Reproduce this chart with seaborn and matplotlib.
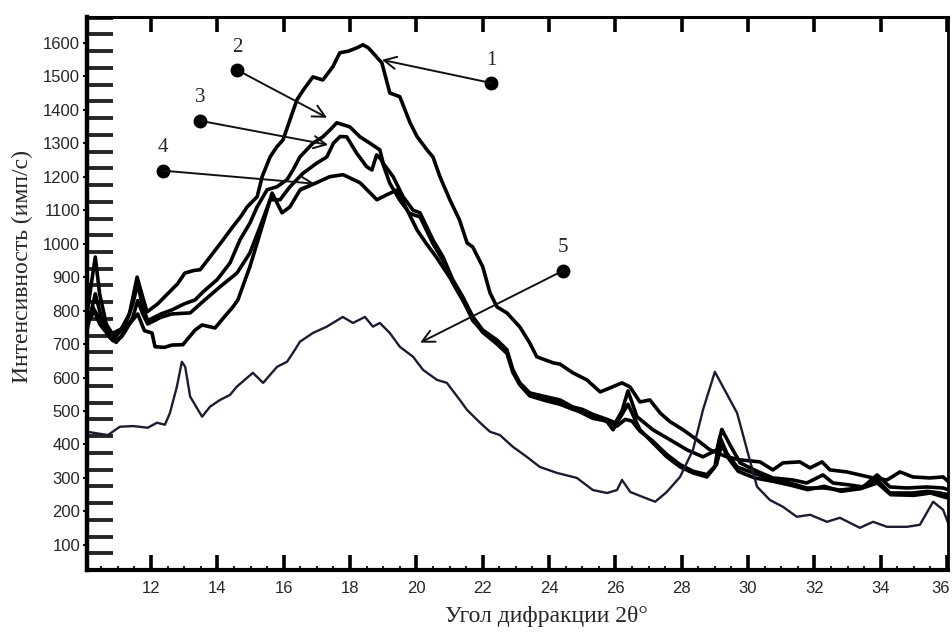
import numpy as np
import pandas as pd
import matplotlib
matplotlib.use("Agg")
import matplotlib.pyplot as plt
import matplotlib.transforms as mtransforms
import seaborn as sns
from matplotlib.ticker import MultipleLocator, FixedLocator

# ---- data (2theta, intensity) ----
x1 = [10.07, 10.3, 10.55, 10.8, 11.1, 11.35, 11.58, 11.75, 11.88, 12.2, 12.5, 12.8, 13.02, 13.3, 13.48,
      13.7, 13.87, 14.17, 14.47, 14.7, 14.9, 15.2, 15.35, 15.59, 15.8, 15.98, 16.19, 16.4, 16.6, 16.88,
      17.18, 17.48, 17.69, 17.95, 18.21, 18.39, 18.55, 18.69, 18.96, 19.2, 19.5, 19.81, 20.02, 20.32,
      20.5, 20.71, 21.01, 21.3, 21.53, 21.7, 22.0, 22.22, 22.43, 22.73, 23.12, 23.42, 23.63, 24.12,
      24.33, 24.72, 25.14, 25.54, 25.84, 26.2, 26.44, 26.74, 27.04, 27.35, 27.65, 28.04, 28.46, 28.85,
      29.36, 29.76, 30.36, 30.75, 31.05, 31.56, 31.87, 32.23, 32.47, 32.98, 33.37, 33.77, 34.19, 34.58,
      34.97, 35.48, 35.88, 36.03]
y1 = [760, 800, 760, 730, 745, 790, 900, 840, 796, 820, 850, 880, 912, 920, 922,
      950, 972, 1011, 1051, 1080, 1110, 1140, 1200, 1259, 1290, 1310, 1370, 1430, 1460, 1498,
      1489, 1528, 1570, 1575, 1585, 1594, 1585, 1570, 1540, 1450, 1439, 1361, 1320, 1280,
      1259, 1200, 1131, 1071, 1002, 990, 931, 853, 811, 793, 751, 703, 662, 644,
      640, 614, 593, 557, 569, 584, 572, 527, 533, 494, 468, 444, 414, 384,
      363, 354, 348, 324, 345, 348, 330, 348, 324, 318, 309, 300, 294, 318,
      303, 300, 303, 290]

x2 = [10.07, 10.2, 10.32, 10.45, 10.65, 10.9, 11.2, 11.45, 11.6, 11.75, 11.9, 12.3, 12.63, 13.0, 13.33,
      13.57, 13.99, 14.38, 14.68, 14.98, 15.2, 15.5, 15.8, 16.1, 16.28, 16.49, 16.88, 17.18, 17.4, 17.6,
      17.99, 18.3, 18.6, 18.9, 19.0, 19.3, 19.6, 19.9, 20.11, 20.5, 20.8, 21.1, 21.4, 21.7, 22.0,
      22.43, 22.73, 22.91, 23.12, 23.42, 23.93, 24.33, 24.72, 25.0, 25.32, 25.75, 26.0, 26.2, 26.38,
      26.65, 27.13, 27.65, 28.16, 28.64, 29.06, 29.21, 29.45, 29.76, 30.27, 30.75, 31.35, 31.77, 32.26,
      32.56, 33.07, 33.47, 33.89, 34.28, 34.79, 35.39, 35.88, 36.03]
y2 = [790, 880, 960, 850, 760, 720, 750, 820, 880, 810, 770, 790, 802, 820, 832,
      856, 892, 942, 1011, 1061, 1110, 1161, 1170, 1191, 1220, 1259, 1300, 1319, 1340, 1361,
      1349, 1319, 1300, 1280, 1240, 1200, 1140, 1100, 1092, 1011, 961, 892, 841, 782, 742,
      712, 683, 623, 584, 554, 542, 533, 512, 505, 490, 475, 465, 500, 560,
      483, 444, 414, 384, 363, 384, 445, 400, 345, 320, 300, 294, 285, 309,
      285, 279, 273, 309, 273, 270, 273, 270, 265]

x3 = [10.07, 10.2, 10.32, 10.5, 10.75, 10.95, 11.2, 11.45, 11.6, 11.75, 11.9, 12.3, 12.63, 13.18, 13.6,
      14.08, 14.59, 14.98, 15.29, 15.59, 15.89, 16.19, 16.58, 16.99, 17.3, 17.5, 17.7, 17.9, 18.2, 18.5,
      18.66, 18.8, 18.95, 19.2, 19.5, 19.8, 20.11, 20.5, 20.8, 21.1, 21.4, 21.7, 22.0, 22.43, 22.73,
      22.91, 23.12, 23.42, 23.93, 24.33, 24.72, 25.32, 25.75, 25.93, 26.2, 26.38, 26.74, 27.13, 27.55,
      27.95, 28.34, 28.76, 29.0, 29.15, 29.36, 29.67, 30.15, 30.75, 31.26, 31.77, 32.3, 32.77, 33.37,
      33.89, 34.28, 34.97, 35.4, 35.79, 36.03]
y3 = [740, 800, 850, 780, 720, 705, 735, 780, 830, 790, 760, 780, 790, 793, 830,
      871, 912, 972, 1051, 1131, 1131, 1170, 1210, 1240, 1259, 1300, 1320, 1319, 1270, 1230,
      1220, 1265, 1250, 1180, 1130, 1090, 1080, 1000, 950, 882, 830, 775, 735, 700, 672,
      615, 578, 545, 530, 520, 505, 485, 468, 444, 490, 520, 444, 405, 363,
      333, 315, 303, 333, 423, 374, 333, 315, 295, 285, 270, 270, 264, 270,
      294, 255, 255, 260, 255, 250]

x4 = [10.07, 10.25, 10.45, 10.85, 11.1, 11.35, 11.6, 11.8, 12.03, 12.12, 12.4, 12.63, 12.96, 13.33, 13.54,
      13.93, 14.2, 14.47, 14.62, 14.98, 15.2, 15.5, 15.65, 15.95, 16.19, 16.49, 16.99, 17.39, 17.79, 18.3,
      18.81, 19.11, 19.41, 19.72, 20.02, 20.3, 20.6, 21.1, 21.4, 21.7, 22.0, 22.43, 22.73, 22.91, 23.12,
      23.42, 23.93, 24.33, 24.72, 25.32, 25.75, 26.05, 26.3, 26.5, 26.74, 27.13, 27.55, 27.95, 28.34,
      28.76, 29.05, 29.2, 29.4, 29.7, 30.2, 30.75, 31.3, 31.8, 32.3, 32.8, 33.4, 33.9, 34.3,
      35.0, 35.5, 35.85, 36.03]
y4 = [770, 810, 760, 710, 720, 760, 790, 740, 733, 692, 690, 697, 698, 742, 757,
      748, 780, 811, 832, 931, 1002, 1101, 1151, 1092, 1110, 1160, 1182, 1200, 1206, 1182,
      1131, 1146, 1160, 1101, 1041, 1000, 960, 885, 835, 770, 738, 705, 678, 620, 580,
      550, 536, 528, 508, 478, 470, 455, 475, 470, 440, 410, 370, 340, 320,
      310, 340, 400, 360, 320, 300, 290, 278, 265, 275, 260, 268, 285, 250,
      248, 255, 245, 240]

x5 = [10.07, 10.7, 11.06, 11.46, 11.9, 12.18, 12.42, 12.57, 12.78, 12.93, 13.03, 13.18, 13.54, 13.78, 14.08,
      14.38, 14.59, 15.07, 15.38, 15.8, 16.1, 16.34, 16.49, 16.88, 17.3, 17.78, 18.09, 18.45, 18.69, 18.9,
      19.2, 19.5, 19.9, 20.2, 20.62, 20.92, 21.31, 21.53, 21.92, 22.22, 22.52, 22.91, 23.33, 23.72, 24.24,
      24.84, 25.32, 25.75, 26.05, 26.2, 26.45, 26.83, 27.2, 27.55, 27.95, 28.34, 28.64, 29.0, 29.24,
      29.67, 29.97, 30.27, 30.66, 31.05, 31.47, 31.87, 32.38, 32.77, 33.37, 33.77, 34.19, 34.79, 35.18,
      35.58, 35.88, 36.03]
y5 = [438, 428, 453, 455, 450, 465, 459, 494, 573, 647, 632, 543, 483, 513, 533,
      548, 573, 614, 584, 632, 647, 683, 707, 733, 752, 781, 763, 781, 752, 763,
      733, 692, 662, 623, 593, 584, 533, 503, 465, 438, 428, 393, 363, 333, 315,
      300, 264, 255, 264, 294, 258, 243, 229, 258, 303, 384, 503, 617, 573,
      494, 384, 274, 234, 214, 184, 190, 169, 181, 151, 169, 154, 154, 160,
      229, 205, 166]

curve_labels = ["1", "2", "3", "4", "5"]
# marker dot (x, y) and arrow tip (x, y) for each numbered label
dot_x = [22.25, 14.59, 13.48, 12.36, 24.42]
dot_y = [1480, 1519, 1367, 1218, 919]
tip_x = [18.96, 17.31, 17.34, 16.94, 20.11]
tip_y = [1549, 1376, 1295, 1179, 704]

x_label = "Угол дифракции 2θ°"
y_label = "Интенсивность (имп/с)"

sns.set_style("white")

fig = plt.figure(figsize=(9.53, 6.32), dpi=100)
ax = fig.add_axes([0.0913, 0.0981, 0.9035, 0.875])

xs = [x1, x2, x3, x4, x5]
ys = [y1, y2, y3, y4, y5]
for i in range(5):
    d = pd.DataFrame({"x": xs[i], "y": ys[i]})
    if i < 4:
        sns.lineplot(data=d, x="x", y="y", ax=ax, color="black", lw=2.6,
                     estimator=None, sort=False)
    else:
        sns.lineplot(data=d, x="x", y="y", ax=ax, color="#1c1c30", lw=1.7,
                     estimator=None, sort=False)

# numbered markers with arrows
for i in range(5):
    ax.annotate("", xy=(tip_x[i], tip_y[i]), xytext=(dot_x[i], dot_y[i]),
                arrowprops=dict(arrowstyle="->", lw=1.4, color="#111111",
                                mutation_scale=22, shrinkA=0, shrinkB=0))
    ax.plot(dot_x[i], dot_y[i], "o", color="black", ms=9)
    ax.text(dot_x[i], dot_y[i] + 40, curve_labels[i], ha="center", va="bottom",
            fontsize=15, family="Liberation Serif")

ax.set_xlim(10.07, 36.03)
ax.set_ylim(25, 1677)

ax.xaxis.set_major_locator(FixedLocator(np.arange(12, 37, 2)))
ax.xaxis.set_minor_locator(MultipleLocator(0.5))
ax.yaxis.set_major_locator(FixedLocator(np.arange(100, 1601, 100)))
ax.yaxis.set_minor_locator(FixedLocator(np.arange(75, 1676, 50)))

ax.tick_params(axis="x", which="major", direction="in", length=11, width=2.6,
               top=True, bottom=True, pad=8, labelsize=12, color="black")
ax.tick_params(axis="x", which="minor", direction="in", length=3, width=1.5,
               top=False, bottom=True)
ax.tick_params(axis="y", which="major", direction="out", length=3, width=1.5,
               left=True, right=False, pad=2, labelsize=12, color="black")
ax.tick_params(axis="y", which="minor", direction="in", length=19, width=2.8,
               left=True, right=False)
for lab in ax.get_xticklabels() + ax.get_yticklabels():
    lab.set_family("Liberation Sans")

# last x label ("36") sits against the right edge, nudge it left a bit
last = ax.get_xticklabels()[-1]
last.set_transform(last.get_transform() +
                   mtransforms.ScaledTranslation(-6 / 100, 0, fig.dpi_scale_trans))

for side, w in [("left", 3.2), ("bottom", 3.0), ("top", 2.2), ("right", 2.0)]:
    ax.spines[side].set_visible(True)
    ax.spines[side].set_linewidth(w)
    ax.spines[side].set_color("black")

ax.set_xlabel(x_label, fontsize=17, family="Liberation Serif")
ax.set_ylabel(y_label, fontsize=17, family="Liberation Serif")
ax.xaxis.set_label_coords(0.533, -0.066)
ax.yaxis.set_label_coords(-0.063, 0.548)

fig.savefig("out.png", dpi=100)
